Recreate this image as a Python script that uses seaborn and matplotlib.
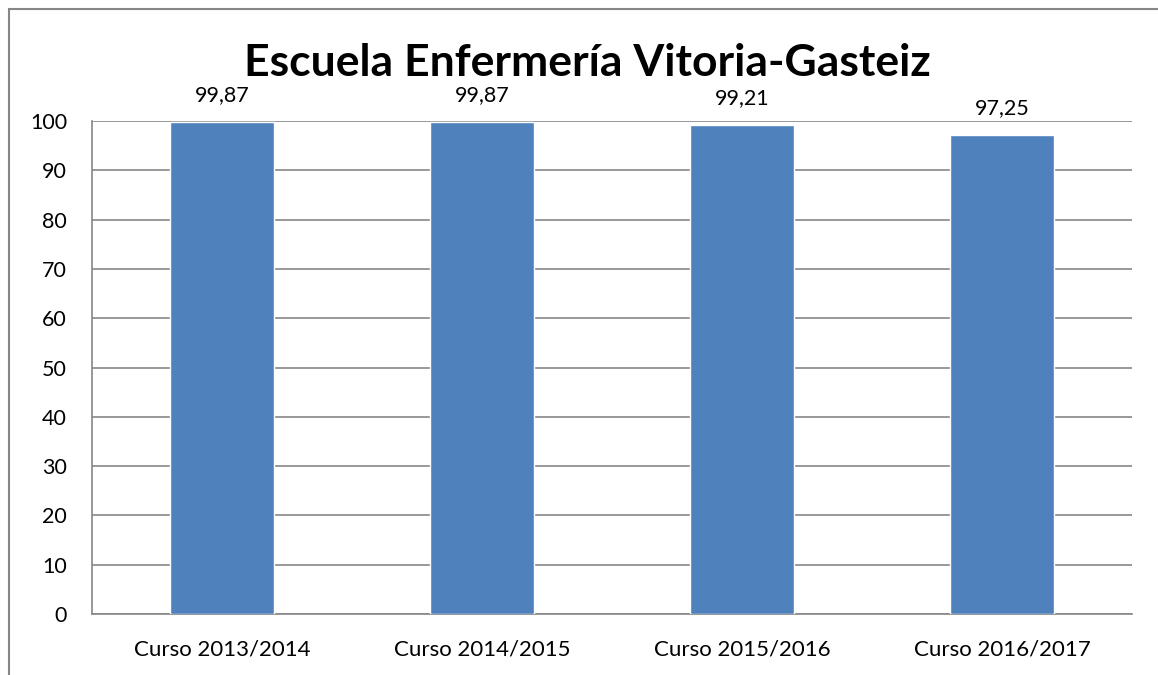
import matplotlib
matplotlib.use("Agg")
import matplotlib.pyplot as plt
from matplotlib.lines import Line2D
import seaborn as sns
import pandas as pd

# Datos del gráfico
cursos = ["Curso 2013/2014", "Curso 2014/2015", "Curso 2015/2016", "Curso 2016/2017"]
valores = [99.87, 99.87, 99.21, 97.25]
etiquetas = ["99,87", "99,87", "99,21", "97,25"]
titulo = "Escuela Enfermería Vitoria-Gasteiz"

sns.set_style("white", {"text.color": "black", "xtick.color": "black",
                        "ytick.color": "black"})
plt.rcParams["font.family"] = ["Lato", "DejaVu Sans"]

W, H = 1158, 675
fig = plt.figure(figsize=(W / 100, H / 100), dpi=100)
ax = fig.add_axes([92 / W, (H - 614) / H, (1132 - 92) / W, (614 - 121) / H])

df = pd.DataFrame({"curso": cursos, "valor": valores})
sns.barplot(data=df, x="curso", y="valor", color="#4F81BD", saturation=1,
            width=0.4, ax=ax, zorder=3)

gris = "#868686"
ax.set_ylim(0, 100)
ax.set_xlim(-0.5, len(cursos) - 0.5)
ax.set_yticks(range(0, 101, 10))
ax.yaxis.grid(True, color=gris, linewidth=1.2, zorder=0)
ax.set_axisbelow(True)
for s in ["top", "right"]:
    ax.spines[s].set_visible(False)
for s in ["left", "bottom"]:
    ax.spines[s].set_color(gris)
    ax.spines[s].set_linewidth(1.2)

ax.tick_params(axis="y", length=6, width=1.2, color=gris, labelcolor="black",
               pad=12, labelsize=15.5)
ax.tick_params(axis="x", which="major", length=0, pad=18, labelsize=16,
               labelcolor="black")
ax.set_xticks([i - 0.5 for i in range(len(cursos) + 1)], minor=True)
ax.tick_params(axis="x", which="minor", length=6, width=1.2, color=gris)
ax.set_xlabel("")
ax.set_ylabel("")

ax.bar_label(ax.containers[0], labels=etiquetas, padding=12, fontsize=15.5,
             color="black")

fig.text(587 / W, 1 - 76 / H, titulo, ha="center", va="baseline",
         fontsize=32, fontweight="bold", color="black")

# Marco exterior (sólo se ven los bordes superior e izquierdo)
fig.add_artist(Line2D([9 / W, 1], [1 - 9 / H, 1 - 9 / H], color=gris, linewidth=1.5))
fig.add_artist(Line2D([9 / W, 9 / W], [0, 1 - 9 / H], color=gris, linewidth=1.5))

fig.savefig("out.png", dpi=100)
